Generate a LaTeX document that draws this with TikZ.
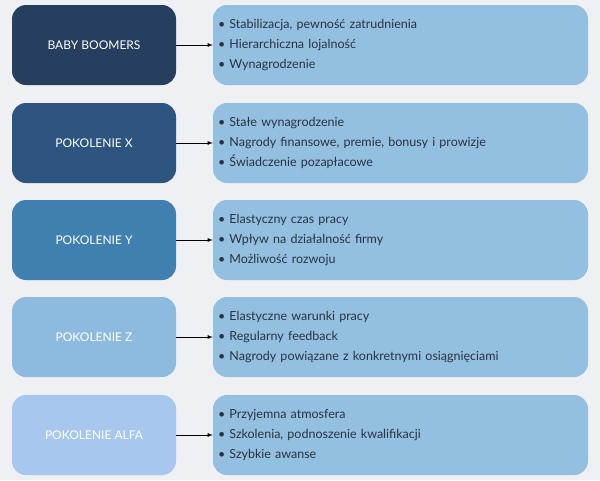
\documentclass[tikz,border=0pt]{standalone}
\usepackage{fontspec}
\setmainfont{Lato}
\tikzset{>=latex}
\usetikzlibrary{positioning}
\definecolor{bgc}{HTML}{EEF0F3}
\definecolor{genA}{HTML}{263F5F}
\definecolor{genB}{HTML}{2D5580}
\definecolor{genC}{HTML}{3F80B0}
\definecolor{genD}{HTML}{8DBBE0}
\definecolor{genE}{HTML}{A7C7EE}
\definecolor{valc}{HTML}{93BFE0}
\definecolor{txtc}{HTML}{2A3440}
\tikzset{
  gen/.style={rounded corners=14pt, minimum width=164pt, minimum height=80pt,
    text=white, font=\fontsize{12}{14}\selectfont, inner sep=0pt},
  vals/.style={rounded corners=14pt, minimum width=375pt, minimum height=80pt,
    fill=valc, text=txtc, align=left, text width=365pt, inner sep=5pt,
    font=\fontsize{12.5}{20}\selectfont},
}
\newcommand{\itm}[1]{\textbullet\ #1}
\begin{document}
\begin{tikzpicture}[x=1pt,y=-1pt]
  \fill[bgc] (0,0) rectangle (600,480);
  \useasboundingbox (0,0) rectangle (600,480);
  \node[gen, fill=genA] (boomers) at (94,45) {BABY BOOMERS};
  \node[gen, fill=genB] (genx) at (94,143) {POKOLENIE X};
  \node[gen, fill=genC] (geny) at (94,240) {POKOLENIE Y};
  \node[gen, fill=genD] (genz) at (94,337) {POKOLENIE Z};
  \node[gen, fill=genE] (alfa) at (94,435) {POKOLENIE ALFA};
  \node[vals] (vboomers) at (400.5,45) {\itm{Stabilizacja, pewność zatrudnienia}\\\itm{Hierarchiczna lojalność}\\\itm{Wynagrodzenie}};
  \node[vals] (vgenx) at (400.5,143) {\itm{Stałe wynagrodzenie}\\\itm{Nagrody finansowe, premie, bonusy i prowizje}\\\itm{Świadczenie pozapłacowe}};
  \node[vals] (vgeny) at (400.5,240) {\itm{Elastyczny czas pracy}\\\itm{Wpływ na działalność firmy}\\\itm{Możliwość rozwoju}};
  \node[vals] (vgenz) at (400.5,337) {\itm{Elastyczne warunki pracy}\\\itm{Regularny feedback}\\\itm{Nagrody powiązane z konkretnymi osiągnięciami}};
  \node[vals] (valfa) at (400.5,435) {\itm{Przyjemna atmosfera}\\\itm{Szkolenia, podnoszenie kwalifikacji}\\\itm{Szybkie awanse}};
  \foreach \g in {boomers,genx,geny,genz,alfa}
    \draw[->, thick] (\g) -- (v\g);
\end{tikzpicture}
\end{document}
